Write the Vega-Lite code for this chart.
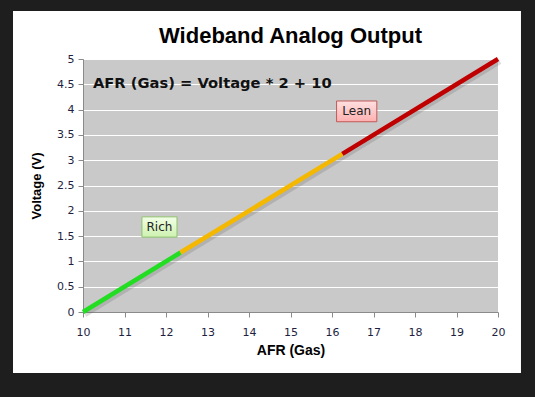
{
  "$schema": "https://vega.github.io/schema/vega-lite/v6.json",
  "width": 415,
  "height": 253,
  "autosize": {"type": "none"},
  "padding": {"left": 83, "top": 59, "right": 37, "bottom": 85},
  "background": "white",
  "title": {"text": "Wideband Analog Output", "font": "Liberation Sans", "fontSize": 22, "fontWeight": "bold", "color": "#000000", "anchor": "middle", "frame": "group", "baseline": "alphabetic", "offset": 0, "dy": 78},
  "config": {
    "view": {"fill": "#c9c9c9", "stroke": null},
    "axis": {
      "labelFont": "DejaVu Sans", "labelFontSize": 11, "labelColor": "#1f1f3f", "labelFlush": false,
      "titleFont": "Liberation Sans", "titleFontWeight": "bold", "titleColor": "#000000",
      "domainColor": "#8a8a8a", "tickColor": "#8a8a8a", "tickSize": 5,
      "gridColor": "#ffffff", "gridWidth": 1, "gridOpacity": 1
    },
    "axisY": {"tickCount": 10, "format": "~g"},
    "axisX": {"tickCount": 10}
  },
  "datasets": {
    "afr": [
      {"afr": 10, "voltage": 0, "zone": "Rich"},
      {"afr": 12.35, "voltage": 1.175, "zone": "Rich"},
      {"afr": 12.35, "voltage": 1.175, "zone": "Normal"},
      {"afr": 16.25, "voltage": 3.125, "zone": "Normal"},
      {"afr": 16.25, "voltage": 3.125, "zone": "Lean"},
      {"afr": 20, "voltage": 5, "zone": "Lean"}
    ],
    "labels": [
      {"label": "Rich", "x0": 11.42, "x1": 12.265, "y0": 1.48, "y1": 1.88, "xc": 11.842, "yc": 1.68},
      {"label": "Lean", "x0": 16.11, "x1": 17.08, "y0": 3.76, "y1": 4.17, "xc": 16.595, "yc": 3.965}
    ],
    "one": [{}]
  },
  "layer": [
    {
      "data": {"name": "afr"},
      "mark": {"type": "line", "color": "#555555", "opacity": 0.2, "strokeWidth": 5, "xOffset": 2, "yOffset": 2.5},
      "encoding": {
        "x": {"field": "afr", "type": "quantitative", "scale": {"domain": [10, 20], "nice": false}, "axis": {"title": "AFR (Gas)", "titleFontSize": 14, "grid": false, "tickCount": 10, "labelPadding": 9, "titlePadding": 6}},
        "y": {"field": "voltage", "type": "quantitative", "scale": {"domain": [0, 5], "nice": false}, "axis": {"title": "Voltage (V)", "titleFontSize": 13, "grid": true, "tickCount": 10, "format": "~g", "labelPadding": 4, "titlePadding": 13}},
        "detail": {"field": "zone"}
      }
    },
    {
      "data": {"name": "afr"},
      "mark": {"type": "line", "strokeWidth": 4.5},
      "encoding": {
        "x": {"field": "afr", "type": "quantitative"},
        "y": {"field": "voltage", "type": "quantitative"},
        "color": {"field": "zone", "type": "nominal", "scale": {"domain": ["Rich", "Normal", "Lean"], "range": ["#22dd22", "#f5b800", "#c00000"]}, "legend": null}
      }
    },
    {
      "data": {"name": "labels"},
      "transform": [{"filter": "datum.label === 'Rich'"}],
      "mark": {"type": "rect", "stroke": "#90c070", "strokeWidth": 1, "fill": {"gradient": "linear", "x1": 0, "y1": 0, "x2": 0, "y2": 1, "stops": [{"offset": 0, "color": "#f2ffe6"}, {"offset": 1, "color": "#cdf2b0"}]}},
      "encoding": {
        "x": {"field": "x0", "type": "quantitative"}, "x2": {"field": "x1"},
        "y": {"field": "y0", "type": "quantitative"}, "y2": {"field": "y1"}
      }
    },
    {
      "data": {"name": "labels"},
      "transform": [{"filter": "datum.label === 'Lean'"}],
      "mark": {"type": "rect", "stroke": "#c05a5a", "strokeWidth": 1, "fill": {"gradient": "linear", "x1": 0, "y1": 0, "x2": 0, "y2": 1, "stops": [{"offset": 0, "color": "#ffe0e0"}, {"offset": 1, "color": "#ffb0b0"}]}},
      "encoding": {
        "x": {"field": "x0", "type": "quantitative"}, "x2": {"field": "x1"},
        "y": {"field": "y0", "type": "quantitative"}, "y2": {"field": "y1"}
      }
    },
    {
      "data": {"name": "labels"},
      "mark": {"type": "text", "font": "DejaVu Sans", "fontSize": 12, "color": "#222222", "align": "center", "baseline": "middle"},
      "encoding": {
        "x": {"field": "xc", "type": "quantitative"},
        "y": {"field": "yc", "type": "quantitative"},
        "text": {"field": "label"}
      }
    },
    {
      "data": {"name": "one"},
      "mark": {"type": "text", "font": "DejaVu Sans", "fontSize": 14.7, "fontWeight": "bold", "color": "#111111", "align": "left", "baseline": "alphabetic", "text": "AFR (Gas) = Voltage * 2 + 10"},
      "encoding": {
        "x": {"datum": 10.24, "type": "quantitative"},
        "y": {"datum": 4.43, "type": "quantitative"}
      }
    },
    {
      "data": {"name": "one"},
      "mark": {"type": "rect", "fill": "transparent", "fillOpacity": 0, "stroke": "#1e1e1e", "strokeWidth": 24, "clip": false},
      "encoding": {
        "x": {"datum": 8.024, "type": "quantitative"}, "x2": {"datum": 20.843},
        "y": {"datum": 6.186, "type": "quantitative"}, "y2": {"datum": -1.443}
      }
    }
  ]
}
